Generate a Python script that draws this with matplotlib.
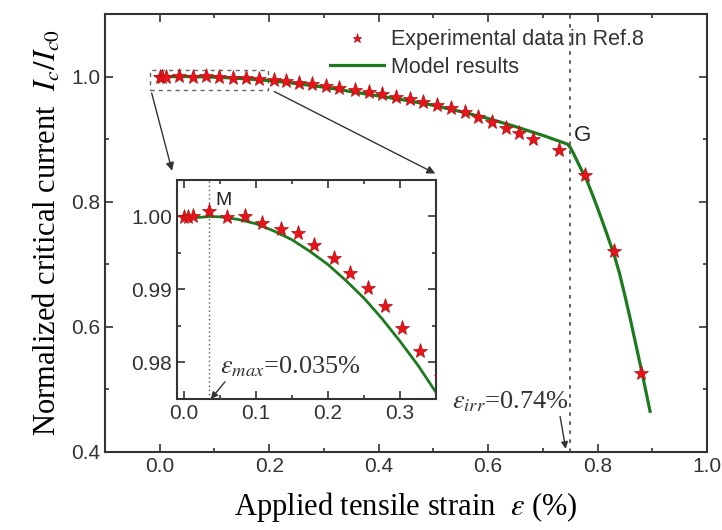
import matplotlib
matplotlib.use("Agg")
import matplotlib.pyplot as plt
from matplotlib.patches import Rectangle
from matplotlib.ticker import MultipleLocator, FormatStrFormatter

# dados experimentais (Ref.8) - deformação (%) e Ic/Ic0
exp_strain = [0.0, 0.005, 0.012, 0.035, 0.06, 0.085, 0.108, 0.134, 0.158, 0.181,
              0.208, 0.23, 0.255, 0.279, 0.303, 0.328, 0.357, 0.382, 0.407, 0.432,
              0.457, 0.482, 0.507, 0.532, 0.557, 0.582, 0.607, 0.632, 0.657, 0.682,
              0.73, 0.778, 0.83, 0.88]
exp_ic = [0.9999, 0.9999, 1.0, 1.0008, 0.9999, 1.0001, 0.9991, 0.9983, 0.9977, 0.9961,
          0.9943, 0.9923, 0.9902, 0.9878, 0.9847, 0.9816, 0.978, 0.975, 0.972, 0.968,
          0.964, 0.96, 0.955, 0.95, 0.944, 0.936, 0.927, 0.918, 0.91, 0.9,
          0.882, 0.842, 0.722, 0.527]

# resultados do modelo
model_strain = [0.0, 0.035, 0.05, 0.075, 0.1, 0.125, 0.15, 0.175, 0.2, 0.225, 0.25,
                0.275, 0.3, 0.325, 0.35, 0.4, 0.45, 0.5, 0.55, 0.6, 0.65, 0.7,
                0.745, 0.75, 0.755, 0.76, 0.765, 0.77, 0.78, 0.79, 0.8, 0.81, 0.82,
                0.83, 0.84, 0.85, 0.86, 0.87, 0.88, 0.89, 0.896]
model_ic = [0.9997, 1.0, 0.99995, 0.9996, 0.999, 0.998, 0.9968, 0.9952, 0.9934, 0.9912,
            0.9888, 0.986, 0.9829, 0.9796, 0.9759, 0.969, 0.962, 0.954, 0.944, 0.933,
            0.92, 0.906, 0.892, 0.887, 0.879, 0.870, 0.861, 0.852, 0.835, 0.813,
            0.790, 0.766, 0.741, 0.716, 0.686, 0.650, 0.612, 0.572, 0.532, 0.490, 0.465]

eps_max = 0.035
eps_irr_line = 0.75

red = '#e8141c'
green = '#1e7a1e'
sans = 'Liberation Sans'
serif = 'Liberation Serif'
plt.rcParams['mathtext.fontset'] = 'stix'


def estilo_eixo(ax, xmaj, xmin, ymaj, ymin, xfmt, yfmt):
    ax.xaxis.set_major_locator(MultipleLocator(xmaj))
    ax.xaxis.set_minor_locator(MultipleLocator(xmin))
    ax.yaxis.set_major_locator(MultipleLocator(ymaj))
    ax.yaxis.set_minor_locator(MultipleLocator(ymin))
    ax.xaxis.set_major_formatter(FormatStrFormatter(xfmt))
    ax.yaxis.set_major_formatter(FormatStrFormatter(yfmt))
    ax.tick_params(which='both', direction='in', top=True, right=True,
                   colors='#333333', labelsize=15, width=1.2)
    ax.tick_params(which='major', length=6)
    ax.tick_params(which='minor', length=3)
    for lab in ax.get_xticklabels() + ax.get_yticklabels():
        lab.set_family(sans)
    for s in ax.spines.values():
        s.set_color('#333333')
        s.set_linewidth(1.5)


fig = plt.figure(figsize=(7.22, 5.30), dpi=100)
ax = fig.add_axes([0.1454, 0.1472, 0.8338, 0.8264])

ax.plot(exp_strain, exp_ic, linestyle='none', marker='*', markersize=11,
        color=red, markeredgecolor='#b01010', markeredgewidth=0.5,
        label='Experimental data in Ref.8', zorder=3)
ax.plot(model_strain, model_ic, color=green, linewidth=2.3, label='Model results', zorder=2)

ax.axvline(eps_irr_line, color='#555555', linestyle=(0, (2, 3)), linewidth=1.3)

ax.set_xlim(-0.1, 1.0)
ax.set_ylim(0.4, 1.1)
estilo_eixo(ax, 0.2, 0.1, 0.2, 0.1, '%.1f', '%.1f')

ax.set_xlabel(r'Applied tensile strain  $\varepsilon$ (%)', family=serif, fontsize=22, labelpad=10)
ax.set_ylabel(r'Normalized critical current  $I_c/I_{c0}$', family=serif, fontsize=22, labelpad=6)

leg = ax.legend(loc='upper left', bbox_to_anchor=(0.359, 0.985), frameon=False,
                numpoints=1, markerscale=0.6, handlelength=2.5, handletextpad=0.33,
                labelspacing=0.3, borderaxespad=0,
                prop={'family': sans, 'size': 15.5})
for t in leg.get_texts():
    t.set_color('#333333')

ax.text(0.757, 0.906, 'G', family=sans, fontsize=16, color='#222222', va='center')

# retângulo tracejado da região ampliada
ax.add_patch(Rectangle((-0.018, 0.979), 0.216, 0.032, fill=False,
                       edgecolor='#666666', linestyle=(0, (3, 3)), linewidth=1.0))
ax.annotate('', xy=(0.024, 0.845), xytext=(-0.016, 0.978),
            arrowprops=dict(arrowstyle='-|>', color='#333333', lw=1.0, mutation_scale=12))
ax.annotate('', xy=(0.508, 0.843), xytext=(0.205, 0.978),
            arrowprops=dict(arrowstyle='-|>', color='#333333', lw=1.0, mutation_scale=12))

ax.annotate(r'$\varepsilon_{irr}$=0.74%', xy=(0.742, 0.405), xytext=(0.535, 0.47),
            family=serif, fontsize=19, color='#333333',
            arrowprops=dict(arrowstyle='-|>', color='#333333', lw=1.0, mutation_scale=10,
                            shrinkA=0, shrinkB=0, relpos=(0.92, 0.0)))

# gráfico interno
axi = fig.add_axes([0.2452, 0.2472, 0.3587, 0.4132])
axi.plot(exp_strain, exp_ic, linestyle='none', marker='*', markersize=11,
         color=red, markeredgecolor='#b01010', markeredgewidth=0.5, zorder=3)
axi.plot(model_strain, model_ic, color=green, linewidth=2.0, zorder=2)
axi.axvline(eps_max, color='#555555', linestyle=(0, (1, 2)), linewidth=1.0)
axi.set_xlim(-0.01, 0.35)
axi.set_ylim(0.975, 1.005)
estilo_eixo(axi, 0.1, 0.05, 0.01, 0.005, '%.1f', '%.2f')

axi.text(0.043, 1.0022, 'M', family=sans, fontsize=14, color='#222222', va='center')
axi.annotate(r'$\varepsilon_{max}$=0.035%', xy=(0.037, 0.975), xytext=(0.05, 0.9785),
             family=serif, fontsize=19, color='#333333',
             arrowprops=dict(arrowstyle='-|>', color='#333333', lw=1.0, mutation_scale=10,
                             shrinkA=0, shrinkB=0, relpos=(0.05, 0.0)))

fig.savefig('out.png', dpi=100)
